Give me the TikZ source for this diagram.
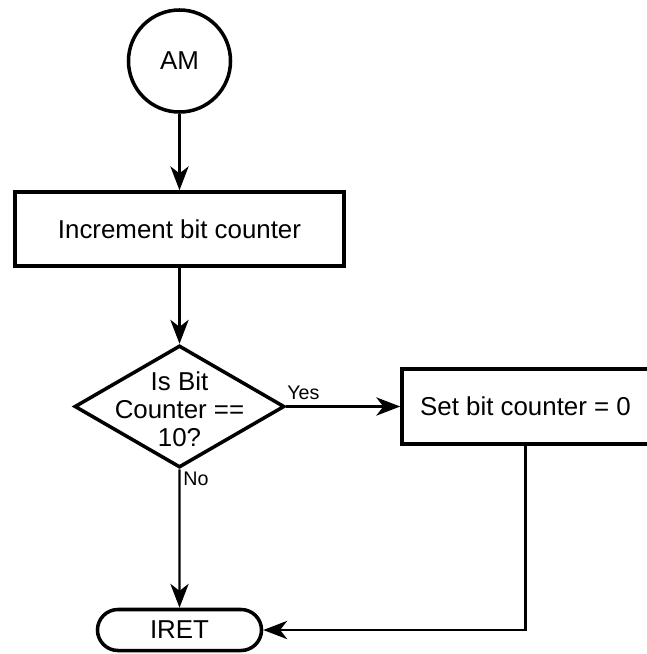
\documentclass[tikz,border=0pt]{standalone}
\usepackage{fontspec}
\setmainfont{Liberation Sans}
\usetikzlibrary{shapes.geometric,shapes.misc,arrows.meta}

\begin{document}
\begin{tikzpicture}[x=0.025cm, y=-0.025cm, auto,
    every node/.style={font=\fontsize{18.4}{20}\selectfont},
    box/.style={draw, line width=2.5pt, inner sep=0pt},
    tag/.style={font=\fontsize{14}{16}\selectfont, inner sep=2pt},
    flow/.style={line width=1.6pt, -{Stealth[length=17pt, width=13pt, inset=5pt]}}]
    \useasboundingbox (0, 0) rectangle (647, 654);
    \node[box, circle, minimum size=2.55cm] (a) at (179.5, 61) {AM};
    \node[box, minimum width=8.225cm, minimum height=1.85cm] (b) at (179.5, 229) {Increment bit counter};
    \node[box, diamond, minimum width=5.25cm, minimum height=3.05cm] (c) at (179.5, 406.5) {};
    \node[align=center] (d) at (179.5, 409) {Is Bit\\Counter ==\\10?};
    \node[box, minimum width=6.175cm, minimum height=1.875cm] (e) at (525.5, 406.5) {Set bit counter = 0};
    \node[box, rounded rectangle, minimum width=4.1cm, minimum height=1.025cm] (f) at (179.5, 630) {IRET};
    \draw [flow] (a) -- (b);
    \draw [flow] (b) -- (c);
    \draw [flow] (c) -- node[tag, pos=0.15, above=2pt] {Yes} (e);
    \draw [flow] (c) -- node[tag, pos=0.07, right] {No} (f);
    \draw [flow] (e.south) |- (f.east);
  \end{tikzpicture}
\end{document}
